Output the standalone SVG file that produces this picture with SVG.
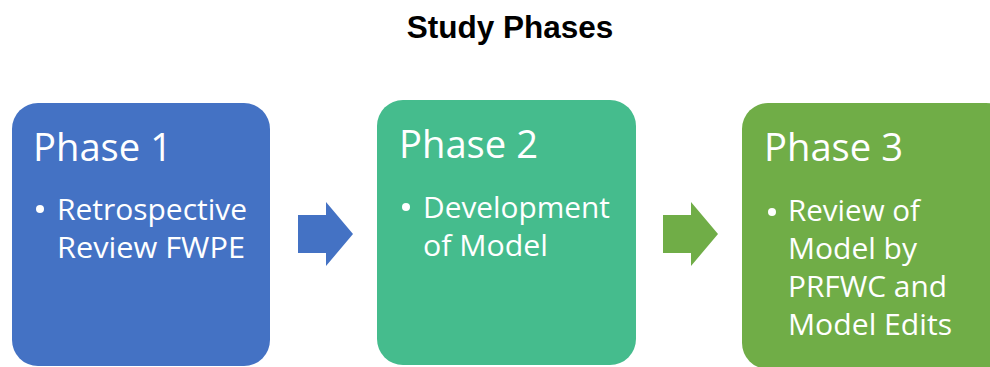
<svg xmlns="http://www.w3.org/2000/svg" width="990" height="367" viewBox="0 0 990 367">
<style>
.title{font-family:"Liberation Sans",Arial,sans-serif;font-weight:bold;font-size:31.5px;fill:#000}
.head{font-family:"Open Sans","Liberation Sans",sans-serif;font-size:39px;fill:#fff}
.item{font-family:"Open Sans","Liberation Sans",sans-serif;font-size:28.5px;fill:#fff}
</style>
<rect width="990" height="367" fill="#fff"/>
<text class="title" x="510" y="38" text-anchor="middle">Study Phases</text>
<g id="connectors">
<polygon points="298,215 326,215 326,202 353,234 326,266 326,253 298,253" fill="#4472C4"/>
<polygon points="663,215 691,215 691,202 718,234 691,266 691,253 663,253" fill="#70AD47"/>
</g>
<g id="phase1">
<rect x="12" y="103" width="258" height="263" rx="26" fill="#4472C4"/>
<text class="head" x="33" y="161" textLength="139" lengthAdjust="spacingAndGlyphs">Phase 1</text>
<circle cx="40" cy="209" r="4" fill="#fff"/>
<text class="item" x="57" y="220" textLength="190" lengthAdjust="spacingAndGlyphs">Retrospective</text>
<text class="item" x="57" y="258" textLength="188" lengthAdjust="spacingAndGlyphs">Review FWPE</text>
</g>
<g id="phase2">
<rect x="377" y="100" width="259" height="265" rx="26" fill="#45BC8D"/>
<text class="head" x="399" y="158" textLength="139" lengthAdjust="spacingAndGlyphs">Phase 2</text>
<circle cx="406" cy="207" r="4" fill="#fff"/>
<text class="item" x="423" y="218" textLength="187" lengthAdjust="spacingAndGlyphs">Development</text>
<text class="item" x="423" y="256" textLength="125" lengthAdjust="spacingAndGlyphs">of Model</text>
</g>
<g id="phase3">
<rect x="742" y="103" width="270" height="266" rx="26" fill="#70AD47"/>
<text class="head" x="764" y="161" textLength="139" lengthAdjust="spacingAndGlyphs">Phase 3</text>
<circle cx="772" cy="212" r="4" fill="#fff"/>
<text class="item" x="788" y="221" textLength="132" lengthAdjust="spacingAndGlyphs">Review of</text>
<text class="item" x="788" y="259" textLength="129" lengthAdjust="spacingAndGlyphs">Model by</text>
<text class="item" x="788" y="297" textLength="159" lengthAdjust="spacingAndGlyphs">PRFWC and</text>
<text class="item" x="788" y="335" textLength="164" lengthAdjust="spacingAndGlyphs">Model Edits</text>
</g>
</svg>
